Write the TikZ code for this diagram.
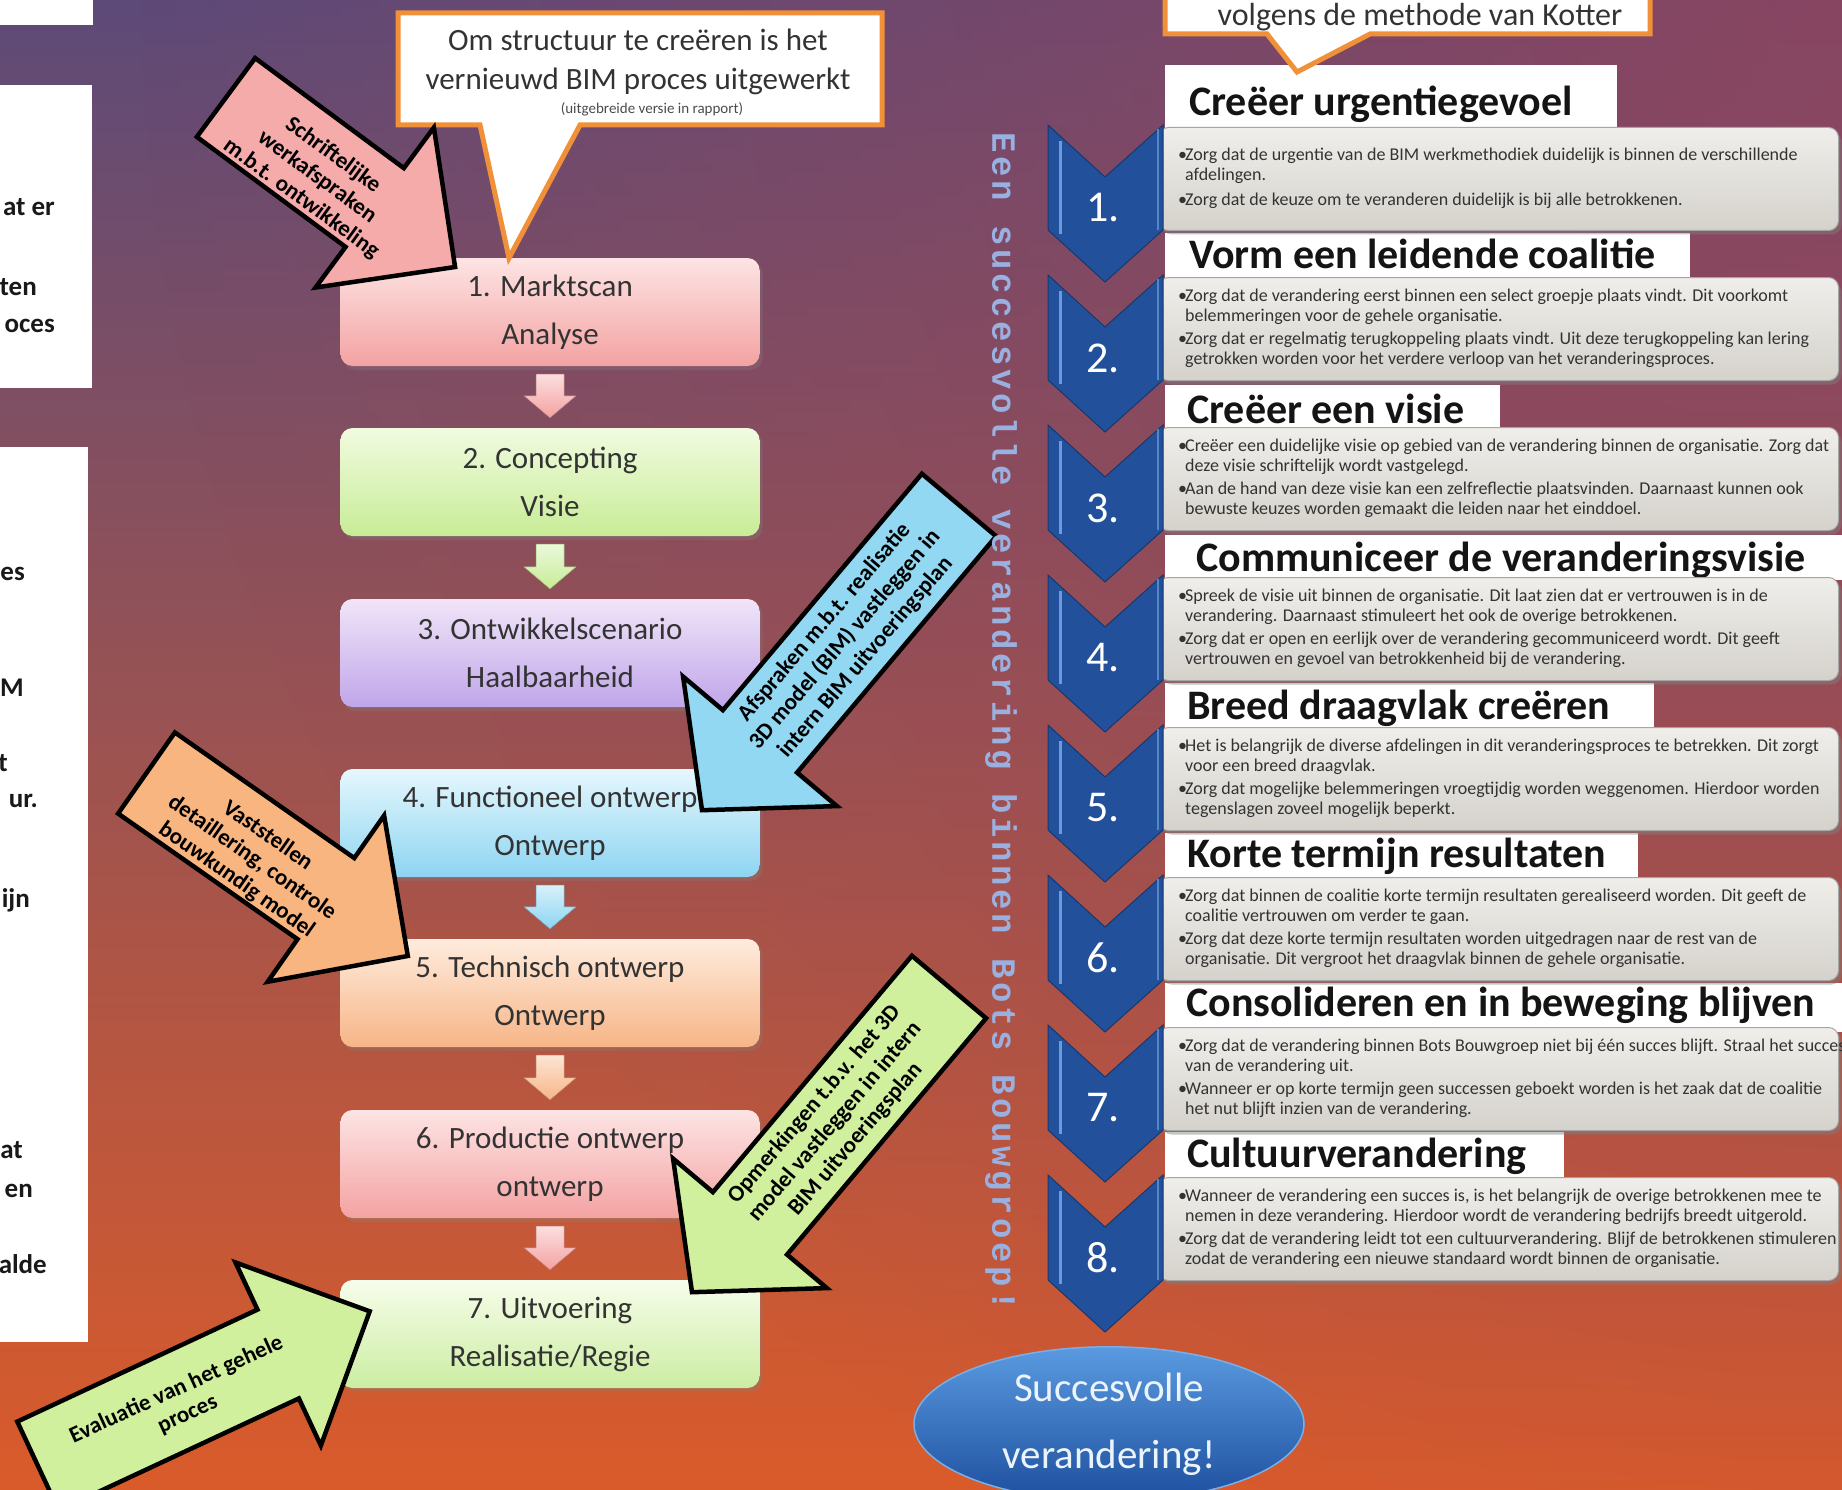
\documentclass[tikz,border=0pt]{standalone}
\usepackage{fontspec}
\setmainfont{Carlito}
\newfontfamily\slogfont[LetterSpace=10.6]{Liberation Mono}
\usetikzlibrary{shapes.geometric,shadows,calc,fadings}

\definecolor{bgA}{HTML}{5D4A78}
\definecolor{bgB}{HTML}{A04F5A}
\definecolor{bgC}{HTML}{DA5B2A}
\definecolor{bgtint}{HTML}{9A4458}
\definecolor{pinkT}{HTML}{FDE4E4}\definecolor{pinkB}{HTML}{F4A2A2}
\definecolor{greenT}{HTML}{F1FBE0}\definecolor{greenB}{HTML}{C7EC96}
\definecolor{lilacT}{HTML}{F1E5F8}\definecolor{lilacB}{HTML}{C0A6EA}
\definecolor{cyanT}{HTML}{E6F7FD}\definecolor{cyanB}{HTML}{8DD5F2}
\definecolor{peachT}{HTML}{FEECDD}\definecolor{peachB}{HTML}{F7B587}
\definecolor{limeT}{HTML}{F7FDEB}\definecolor{limeB}{HTML}{CBEDA2}
\definecolor{calloutline}{HTML}{F0913A}
\definecolor{arrowpink}{HTML}{F6ABAB}
\definecolor{arroworange}{HTML}{F8B580}
\definecolor{arrowcyan}{HTML}{92D8F2}
\definecolor{arrowgreen}{HTML}{D0F09E}
\definecolor{greyT}{HTML}{EFEEEA}\definecolor{greyB}{HTML}{D5D2CC}
\definecolor{chevblue}{HTML}{22509B}
\definecolor{chevlight}{HTML}{6A9BDD}
\definecolor{slogblue}{HTML}{9AB0E0}
\definecolor{goalT}{HTML}{5A9AE0}\definecolor{goalB}{HTML}{1D4F9E}

\tikzfading[name=cornerfade, inner color=transparent!30, outer color=transparent!100]

\newcommand\bul{\makebox[7pt][l]{•}}
\newcommand\ind{\hspace*{7pt}}

% block arrow: tail x, tail y, direction, length, head length, shaft width, head width, fill
\newcommand\blockarrow[8]{%
  \begin{scope}[shift={(#1,#2)}, rotate=#3]
    \filldraw[bigarrow, fill=#8] (0,{-#6/2}) -- ({#4-#5},{-#6/2}) -- ({#4-#5},{-#7/2})
      -- (#4,0) -- ({#4-#5},{#7/2}) -- ({#4-#5},{#6/2}) -- (0,{#6/2}) -- cycle;
  \end{scope}}

% small downward arrow between two process boxes
\newcommand\flowarrow[3]{%
  \path[top color=#3!35, bottom color=#3, draw=#3!80!black, line width=0.5pt]
    let \p1=(#1.south), \p2=(#2.north) in
    (\x1-14pt,\y1-8pt) -- (\x1+14pt,\y1-8pt) -- (\x1+14pt,\y2+32pt) -- (\x1+26pt,\y2+32pt)
    -- (\x1,\y2+10pt) -- (\x1-26pt,\y2+32pt) -- (\x1-14pt,\y2+32pt) -- cycle;}

\tikzset{
  procbox/.style={rounded corners=12pt, minimum width=419pt, minimum height=108pt, align=center,
    text=black!80, font=\fontsize{31}{48}\selectfont,
    drop shadow={opacity=0.3, shadow xshift=3pt, shadow yshift=-4pt}},
  bigarrow/.style={draw=black, line width=4.5pt, line join=miter},
  arrowtext/.style={align=center, font=\bfseries\fontsize{23}{27}\selectfont, text=black, inner sep=0pt},
  leftpanel/.style={fill=white, draw=none},
  fragment/.style={anchor=base east, font=\bfseries\fontsize{27}{30}\selectfont, text=black!90, inner sep=0pt},
  titlebar/.style={fill=white, draw=none, inner sep=0pt, anchor=north west},
  titletext/.style={anchor=base west, font=\bfseries\fontsize{42}{48}\selectfont, text=black!92, inner sep=0pt},
  stepbox/.style={rounded corners=10pt, top color=greyT, bottom color=greyB, draw=gray!70,
    line width=1pt, minimum width=680pt, minimum height=103pt, anchor=north west, inner sep=0pt,
    drop shadow={opacity=0.45, shadow xshift=3pt, shadow yshift=-4pt}},
  steptext/.style={anchor=west, align=left, font=\fontsize{18}{20}\selectfont, text=black!80, inner sep=0pt},
  chevron/.style={fill=chevblue, draw=chevblue!70!black, line width=1pt, line join=miter},
  stepnum/.style={font=\fontsize{44}{44}\selectfont, text=white, inner sep=0pt},
}

\begin{document}
\begin{tikzpicture}[x=1pt, y=-1pt]
\useasboundingbox (0,0) rectangle (1842,1490);
\clip (0,0) rectangle (1842,1490);

% background: purple at the top to orange at the bottom, warmer towards the top right
\shade[top color=bgA, middle color=bgB, bottom color=bgC] (0,0) rectangle (1842,1490);
\fill[bgtint, path fading=cornerfade] (1842,0) circle (1700);

% partly visible white panels on the left edge
\fill[leftpanel] (0,0) rectangle (93,25);
\fill[leftpanel] (0,85) rectangle (92,388);
\fill[leftpanel] (0,447) rectangle (88,1342);
\node[fragment] (f1) at (55,215) {at er};
\node[fragment] (f2) at (37,295) {ten};
\node[fragment] (f3) at (55,332) {oces};
\node[fragment] (f4) at (25,580) {es};
\node[fragment] (f5) at (24,696) {M};
\node[fragment] (f6) at (8,771) {t};
\node[fragment] (f7) at (38,807) {ur.};
\node[fragment] (f8) at (30,907) {ijn};
\node[fragment] (f9) at (23,1158) {at};
\node[fragment] (f10) at (33,1197) {en};
\node[fragment] (f11) at (47,1273) {alde};

% process column
\node[procbox, top color=pinkT, bottom color=pinkB]   (b1) at (550,312)  {1. Marktscan\\Analyse};
\node[procbox, top color=greenT, bottom color=greenB] (b2) at (550,482)  {2. Concepting\\Visie};
\node[procbox, top color=lilacT, bottom color=lilacB] (b3) at (550,653)  {3. Ontwikkelscenario\\Haalbaarheid};
\node[procbox, top color=cyanT, bottom color=cyanB]   (b4) at (550,823)  {4. Functioneel ontwerp\\Ontwerp};
\node[procbox, top color=peachT, bottom color=peachB] (b5) at (550,993)  {5. Technisch ontwerp\\Ontwerp};
\node[procbox, top color=pinkT, bottom color=pinkB]   (b6) at (550,1164) {6. Productie ontwerp\\ontwerp};
\node[procbox, top color=limeT, bottom color=limeB]   (b7) at (550,1334) {7. Uitvoering\\Realisatie/Regie};

\flowarrow{b1}{b2}{pinkB}
\flowarrow{b2}{b3}{greenB}
\flowarrow{b4}{b5}{cyanB}
\flowarrow{b5}{b6}{peachB}
\flowarrow{b6}{b7}{pinkB}

% callout above the process column
\filldraw[fill=white, draw=calloutline, line width=5pt, line join=miter]
  (398,13) -- (882,13) -- (882,125) -- (580,125) -- (509,258) -- (480,125) -- (398,125) -- cycle;
\node[align=center, font=\fontsize{31}{39}\selectfont, text=black!80, inner sep=0pt] (ct1) at (638,62)
  {Om structuur te creëren is het\\vernieuwd BIM proces uitgewerkt};
\node[font=\fontsize{15}{16}\selectfont, text=black!70, inner sep=0pt] (ct2) at (652,109)
  {(uitgebreide versie in rapport)};

% annotation arrows
\blockarrow{226}{97.5}{-36.5}{285}{100}{98}{199}{arrowpink}
\node[arrowtext, rotate=-36] (a1) at (317,177) {Schriftelijke\\werkafspraken\\m.b.t. ontwikkeling};

\blockarrow{146.5}{773}{-35}{319}{100}{99}{203}{arroworange}
\node[arrowtext, rotate=-35] (a2) at (252,858) {Vaststellen\\detaillering, controle\\bouwkundig model};

\blockarrow{959}{505}{229.9}{399}{90}{97}{201}{arrowcyan}
\node[arrowtext, rotate=49.5] (a3) at (845,640) {Afspraken m.b.t. realisatie\\3D model (BIM) vastleggen in\\intern BIM uitvoeringsplan};

\blockarrow{949}{987}{229.9}{399}{90}{97}{201}{arrowgreen}
\node[arrowtext, rotate=49.5] (a4) at (835,1122) {Opmerkingen t.b.v. het 3D\\model vastleggen in intern\\BIM uitvoeringsplan};

\blockarrow{38}{1466}{25}{366}{101}{98}{202}{arrowgreen}
\node[arrowtext, rotate=24.5] (a5) at (182,1402) {Evaluatie van het gehele\\proces};

% Kotter steps: title bars
\node[titlebar, minimum width=452pt, minimum height=67pt] (t1) at (1165,65) {};
\node[titlebar, minimum width=525pt, minimum height=49pt] (t2) at (1165,233) {};
\node[titlebar, minimum width=335pt, minimum height=49pt] (t3) at (1165,385) {};
\node[titlebar, minimum width=677pt, minimum height=45pt] (t4) at (1165,535) {};
\node[titlebar, minimum width=489pt, minimum height=49pt] (t5) at (1165,683) {};
\node[titlebar, minimum width=473pt, minimum height=49pt] (t6) at (1165,833) {};
\node[titlebar, minimum width=677pt, minimum height=49pt] (t7) at (1165,983) {};
\node[titlebar, minimum width=399pt, minimum height=49pt] (t8) at (1165,1132) {};

\node[titletext] (tt1) at (1189,116)  {Creëer urgentiegevoel};
\node[titletext] (tt2) at (1189,269)  {Vorm een leidende coalitie};
\node[titletext] (tt3) at (1187,423)  {Creëer een visie};
\node[titletext] (tt4) at (1196,571)  {Communiceer de veranderingsvisie};
\node[titletext] (tt5) at (1187,719)  {Breed draagvlak creëren};
\node[titletext] (tt6) at (1187,867)  {Korte termijn resultaten};
\node[titletext] (tt7) at (1186,1016) {Consolideren en in beweging blijven};
\node[titletext] (tt8) at (1187,1167) {Cultuurverandering};

% callout above the Kotter steps
\filldraw[fill=white, draw=calloutline, line width=5pt, line join=miter]
  (1165,-20) -- (1650,-20) -- (1650,34) -- (1370,34) -- (1297,72) -- (1267,34) -- (1165,34) -- cycle;
\node[font=\fontsize{32}{34}\selectfont, text=black!80, inner sep=0pt] (kc) at (1420,17)
  {volgens de methode van Kotter};

% Kotter steps: description boxes
\foreach \k in {1,...,8} {
  \node[stepbox] (g\k) at (1158,{127+150*(\k-1)}) {};
}
\node[steptext] (d1) at (1178,178.5) {\bul Zorg dat de urgentie van de BIM werkmethodiek duidelijk is binnen de verschillende\\
  \ind afdelingen.\\[5pt]
  \bul Zorg dat de keuze om te veranderen duidelijk is bij alle betrokkenen.};
\node[steptext] (d2) at (1178,328.5) {\bul Zorg dat de verandering eerst binnen een select groepje plaats vindt. Dit voorkomt\\
  \ind belemmeringen voor de gehele organisatie.\\[3pt]
  \bul Zorg dat er regelmatig terugkoppeling plaats vindt. Uit deze terugkoppeling kan lering\\
  \ind getrokken worden voor het verdere verloop van het veranderingsproces.};
\node[steptext] (d3) at (1178,478.5) {\bul Creëer een duidelijke visie op gebied van de verandering binnen de organisatie. Zorg dat\\
  \ind deze visie schriftelijk wordt vastgelegd.\\[3pt]
  \bul Aan de hand van deze visie kan een zelfreflectie plaatsvinden. Daarnaast kunnen ook\\
  \ind bewuste keuzes worden gemaakt die leiden naar het einddoel.};
\node[steptext] (d4) at (1178,628.5) {\bul Spreek de visie uit binnen de organisatie. Dit laat zien dat er vertrouwen is in de\\
  \ind verandering. Daarnaast stimuleert het ook de overige betrokkenen.\\[3pt]
  \bul Zorg dat er open en eerlijk over de verandering gecommuniceerd wordt. Dit geeft\\
  \ind vertrouwen en gevoel van betrokkenheid bij de verandering.};
\node[steptext] (d5) at (1178,778.5) {\bul Het is belangrijk de diverse afdelingen in dit veranderingsproces te betrekken. Dit zorgt\\
  \ind voor een breed draagvlak.\\[3pt]
  \bul Zorg dat mogelijke belemmeringen vroegtijdig worden weggenomen. Hierdoor worden\\
  \ind tegenslagen zoveel mogelijk beperkt.};
\node[steptext] (d6) at (1178,928.5) {\bul Zorg dat binnen de coalitie korte termijn resultaten gerealiseerd worden. Dit geeft de\\
  \ind coalitie vertrouwen om verder te gaan.\\[3pt]
  \bul Zorg dat deze korte termijn resultaten worden uitgedragen naar de rest van de\\
  \ind organisatie. Dit vergroot het draagvlak binnen de gehele organisatie.};
\node[steptext] (d7) at (1178,1078.5) {\bul Zorg dat de verandering binnen Bots Bouwgroep niet bij één succes blijft. Straal het succes\\
  \ind van de verandering uit.\\[3pt]
  \bul Wanneer er op korte termijn geen successen geboekt worden is het zaak dat de coalitie\\
  \ind het nut blijft inzien van de verandering.};
\node[steptext] (d8) at (1178,1228.5) {\bul Wanneer de verandering een succes is, is het belangrijk de overige betrokkenen mee te\\
  \ind nemen in deze verandering. Hierdoor wordt de verandering bedrijfs breedt uitgerold.\\[3pt]
  \bul Zorg dat de verandering leidt tot een cultuurverandering. Blijf de betrokkenen stimuleren\\
  \ind zodat de verandering een nieuwe standaard wordt binnen de organisatie.};

% numbered chevrons
\foreach \k in {1,...,8} {
  \pgfmathsetmacro\B{230+150*(\k-1)}
  \pgfmathsetmacro\T{\B-105}
  \filldraw[chevron] (1048,\T) -- (1105,\T+52) -- (1163,\T) -- (1163,\B) -- (1105,\B+52) -- (1048,\B) -- cycle;
  \draw[chevlight, line width=3pt] (1060,\T+16) -- (1060,\B+4);
  \draw[chevlight!70!chevblue, line width=2pt] (1158,\T+4) -- (1158,\B);
  \node[stepnum] (n\k) at (1103,\B-22) {\k.};
}

% vertical slogan
\node[rotate=-90, font=\slogfont\bfseries\fontsize{34}{34}\selectfont, text=slogblue, inner sep=0pt] (slogan)
  at (1001,722) {Een succesvolle verandering binnen Bots Bouwgroep!};

% goal
\node[ellipse, minimum width=390pt, minimum height=142pt, top color=goalT, bottom color=goalB,
  draw=goalT!80!white, line width=1.5pt, align=center, text=white!88!goalT,
  font=\fontsize{41}{67}\selectfont] (goal) at (1109,1424) {Succesvolle\\verandering!};
\end{tikzpicture}
\end{document}
